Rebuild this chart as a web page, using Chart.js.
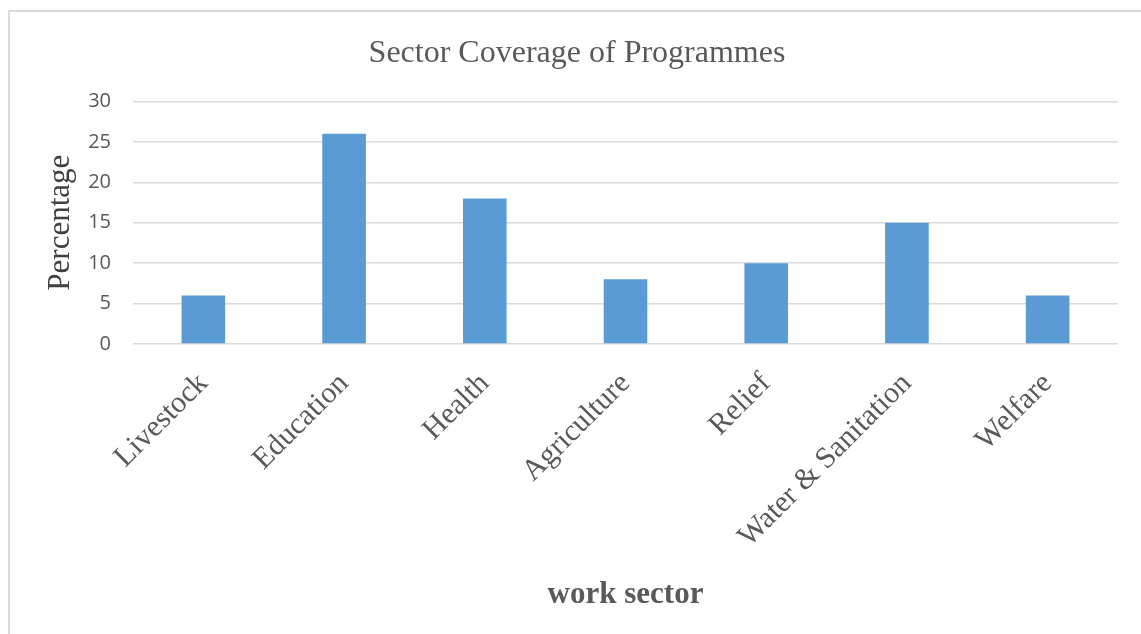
<!DOCTYPE html>
<html>
<head>
  <title>Sector Coverage of Programmes</title>
  <script src="https://cdn.jsdelivr.net/npm/chart.js"></script>
  <style>
    body {
      margin: 0;
      background-color: #fff;
    }
    .frame {
      position: absolute;
      left: 8px;
      top: 10px;
      width: 1200px;
      height: 700px;
      border: 2px solid #d9d9d9;
      box-sizing: border-box;
    }
    .chart-box {
      position: absolute;
      left: 0;
      top: 0;
      width: 1141px;
      height: 634px;
    }
  </style>
</head>
<body>
  <div class="frame"></div>
  <div class="chart-box">
    <canvas id="sectorChart"></canvas>
  </div>

  <script>
    const sectors = ['Livestock', 'Education', 'Health', 'Agriculture', 'Relief', 'Water & Sanitation', 'Welfare'];
    const percentages = [6, 26, 18, 8, 10, 15, 6];
    const yTicks = [0, 5, 10, 15, 20, 25, 30];

    const serif = "'Liberation Serif', 'Times New Roman', serif";
    const sans = "'Open Sans', 'Liberation Sans', sans-serif";

    const ctx = document.getElementById('sectorChart').getContext('2d');

    new Chart(ctx, {
      type: 'bar',
      data: {
        labels: sectors,
        datasets: [{
          label: 'Percentage',
          data: percentages,
          backgroundColor: '#5b9bd5',
          borderWidth: 0,
          categoryPercentage: 0.62,
          barPercentage: 0.5
        }]
      },
      options: {
        responsive: true,
        maintainAspectRatio: false,
        animation: false,
        layout: {
          padding: { top: 10, left: 36, right: 23, bottom: 20 }
        },
        plugins: {
          legend: { display: false },
          tooltip: { enabled: false },
          title: {
            display: true,
            text: 'Sector Coverage of Programmes',
            color: '#595959',
            font: { family: serif, size: 32, weight: 'normal' },
            padding: { top: 24, bottom: 29 }
          }
        },
        scales: {
          x: {
            grid: { display: false },
            border: { display: false },
            ticks: {
              color: '#595959',
              font: { family: serif, size: 30 },
              autoSkip: false,
              minRotation: 45,
              maxRotation: 45,
              padding: 14
            },
            title: {
              display: true,
              text: 'work sector',
              color: '#595959',
              font: { family: serif, size: 31, weight: 'bold' },
              padding: 0
            },
            afterFit: function(scale) {
              scale.height = 270;
            }
          },
          y: {
            min: 0,
            max: 30,
            afterBuildTicks: function(scale) {
              scale.ticks = yTicks.map(v => ({ value: v }));
            },
            grid: {
              color: '#d9d9d9',
              lineWidth: 1.5,
              drawTicks: false
            },
            border: { display: false },
            ticks: {
              color: '#595959',
              font: { family: sans, size: 20 },
              padding: 22
            },
            title: {
              display: true,
              text: 'Percentage',
              color: '#404040',
              font: { family: serif, size: 31, weight: 'normal' },
              padding: { top: 6, bottom: 0 }
            },
            afterFit: function(scale) {
              scale.width = 97;
            }
          }
        }
      }
    });
  </script>
</body>
</html>
